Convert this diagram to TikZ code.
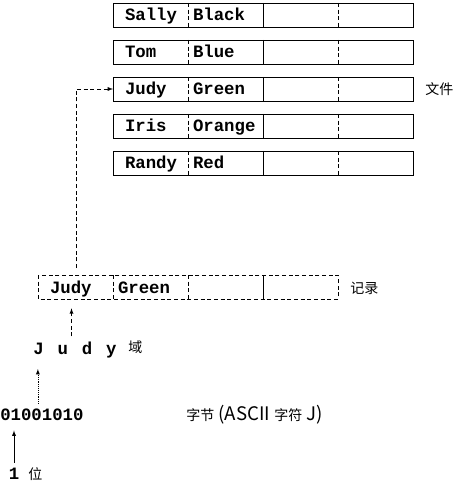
\documentclass[tikz,border=0pt]{standalone}
\usepackage{fontspec}
\setmonofont{Liberation Mono}
\newfontfamily\cjk{Noto Sans CJK SC}
\usetikzlibrary{arrows,calc,positioning}

\tikzset{
  cell/.style={inner ysep=0pt,outer sep=0pt,minimum height=18pt,align=left,
    text height=10pt,text depth=1pt,
    font=\ttfamily\bfseries\fontsize{13}{13}\selectfont},
  cellA/.style={cell,anchor=north west,inner xsep=9pt,text width=38.25pt},
  cellB/.style={cell,inner xsep=3.75pt,text width=48.75pt},
  word/.style={inner sep=0pt,font=\ttfamily\bfseries\fontsize{13}{13}\selectfont},
  zh/.style={inner sep=0pt,anchor=west,font=\cjk\fontsize{10.5}{10.5}\selectfont}
}
\newcommand{\latbig}[1]{{\fontsize{14}{14}\selectfont #1}}
\newcommand{\gap}{\hspace{2.6pt} }

\begin{document}
\begin{tikzpicture}[x=0.75pt,y=-0.75pt]
\useasboundingbox (0,0) rectangle (457,484);
% the file: five records
\foreach \n/\f [count=\i] in {Sally/Black,Tom/Blue,Judy/Green,Iris/Orange,Randy/Red}{
  \node[cellA] (n\i) at (113,{3+37*(\i-1)}) {\n};
  \node[cellB,right=0pt of n\i] (f\i) {\f};
  \node[cellB,right=0pt of f\i] (c\i) {};
  \node[cellB,right=0pt of c\i] (d\i) {};
  \draw[line width=0.6pt] (n\i.north west) rectangle (d\i.south east);
  \draw[densely dashed] (n\i.north east)--(n\i.south east) (c\i.north east)--(c\i.south east);
  \draw (f\i.north east)--(f\i.south east);
}
\node[zh] (file) at (425,89) {文件};
% the record
\node[cellA] (rn) at (38,275) {Judy};
\node[cellB,right=0pt of rn] (rf) {Green};
\node[cellB,right=0pt of rf] (rc) {};
\node[cellB,right=0pt of rc] (rd) {};
\draw[densely dashed,line width=0.6pt] (rn.north west) rectangle (rd.south east);
\draw[densely dashed] (rn.north east)--(rn.south east) (rf.north east)--(rf.south east);
\draw (rc.north east)--(rc.south east);
\node[zh] (rec) at (350,288) {记录};
\coordinate (up) at (76,268);
\draw[densely dashed,-latex] (up) |- (n3.west);
% field, byte, bit
\node[word,anchor=west] (letters) at (33,350) {J\gap u\gap d\gap y};
\node[zh,anchor=south west] (field) at (128,354) {域};
\draw[densely dashed,-latex,shorten <=4pt,shorten >=7pt] ([xshift=-3pt]letters.north -| rn.south) -- ([xshift=-3pt]rn.south);
\node[word,anchor=west] (bits) at (0,415) {01001010};
\node[zh] (byte) at (186,415) {字节\latbig{ (ASCII }字符\latbig{ J)}};
\draw[densely dotted,-latex,shorten <=4pt,shorten >=8pt] ([xshift=-3pt]bits.north) -- ([xshift=-3pt]bits.north |- letters.south);
\node[word] (one) at (14,474) {1};
\node[zh] (bit) at (28,474) {位};
\draw[-latex,shorten <=4pt,shorten >=7pt] (one.north) -- (one.north |- bits.south);
\end{tikzpicture}
\end{document}
